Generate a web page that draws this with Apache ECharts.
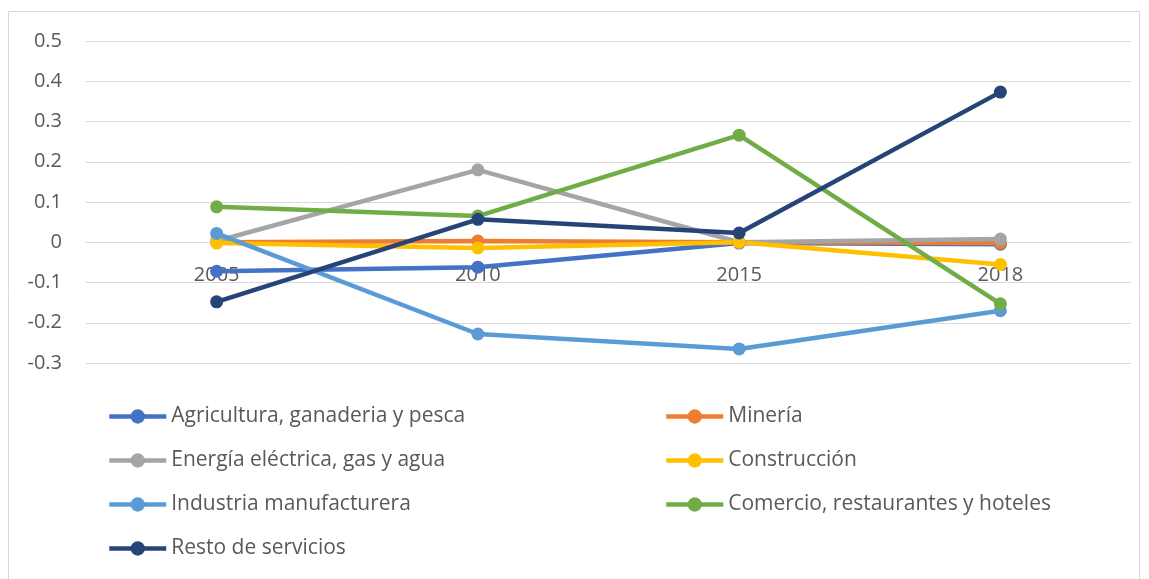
<!DOCTYPE html>
<html>
<head>
<meta charset="utf-8">
<script src="https://cdn.jsdelivr.net/npm/echarts@6/dist/echarts.min.js"></script>
<style>
  html, body { margin: 0; padding: 0; background: #fff; }
  #chart { width: 1149px; height: 579px; }
</style>
</head>
<body>
<div id="chart"></div>
<script>
const years = ['2005', '2010', '2015', '2018'];

const agricultura = [-0.072, -0.062, -0.002, -0.005];
const mineria = [0.0, 0.003, 0.0, -0.002];
const energia = [0.003, 0.180, 0.0, 0.008];
const construccion = [-0.002, -0.014, 0.0, -0.055];
const industria = [0.022, -0.228, -0.265, -0.170];
const comercio = [0.088, 0.065, 0.266, -0.153];
const resto = [-0.148, 0.057, 0.023, 0.373];

const seriesList = [
  { name: 'Agricultura, ganaderia y pesca', data: agricultura, color: '#4472C4' },
  { name: 'Minería', data: mineria, color: '#ED7D31' },
  { name: 'Energía eléctrica, gas y agua', data: energia, color: '#A5A5A5' },
  { name: 'Construcción', data: construccion, color: '#FFC000' },
  { name: 'Industria manufacturera', data: industria, color: '#5B9BD5' },
  { name: 'Comercio, restaurantes y hoteles', data: comercio, color: '#70AD47' },
  { name: 'Resto de servicios', data: resto, color: '#264478' }
];

const font = 'Open Sans';
const chart = echarts.init(document.getElementById('chart'));

const legendBase = {
  orient: 'vertical',
  top: 401,
  itemWidth: 57,
  itemHeight: 18,
  itemGap: 23,
  lineStyle: { width: 4.5 },
  textStyle: { fontFamily: font, fontSize: 21, color: '#595959' }
};

chart.setOption({
  animation: false,
  graphic: [{
    type: 'rect',
    shape: { x: 8.5, y: 11.5, width: 1131, height: 600 },
    style: { fill: 'none', stroke: '#d9d9d9', lineWidth: 1 },
    silent: true
  }],
  grid: { left: 86, right: 18, top: 41, bottom: 216 },
  legend: [
    Object.assign({}, legendBase, {
      left: 102,
      data: [seriesList[0].name, seriesList[2].name, seriesList[4].name, seriesList[6].name]
    }),
    Object.assign({}, legendBase, {
      left: 659,
      data: [seriesList[1].name, seriesList[3].name, seriesList[5].name]
    })
  ],
  xAxis: {
    type: 'category',
    data: years,
    boundaryGap: true,
    offset: -121,
    axisLine: { show: true, onZero: false, lineStyle: { color: '#d9d9d9', width: 1 } },
    axisTick: { show: false },
    axisLabel: { fontFamily: font, fontSize: 20, color: '#595959', margin: 23 }
  },
  yAxis: {
    type: 'value',
    min: -0.3,
    max: 0.5,
    interval: 0.1,
    axisLine: { show: false },
    axisTick: { show: false },
    splitLine: { lineStyle: { color: '#d9d9d9', width: 1 } },
    axisLabel: {
      fontFamily: font, fontSize: 20, color: '#595959', margin: 24,
      formatter: v => String(Math.round(v * 10) / 10)
    }
  },
  series: seriesList.map(s => ({
    name: s.name,
    type: 'line',
    data: s.data,
    symbol: 'circle',
    symbolSize: 13,
    lineStyle: { color: s.color, width: 4.5 },
    itemStyle: { color: s.color },
    emphasis: { disabled: true }
  }))
});
</script>
</body>
</html>
